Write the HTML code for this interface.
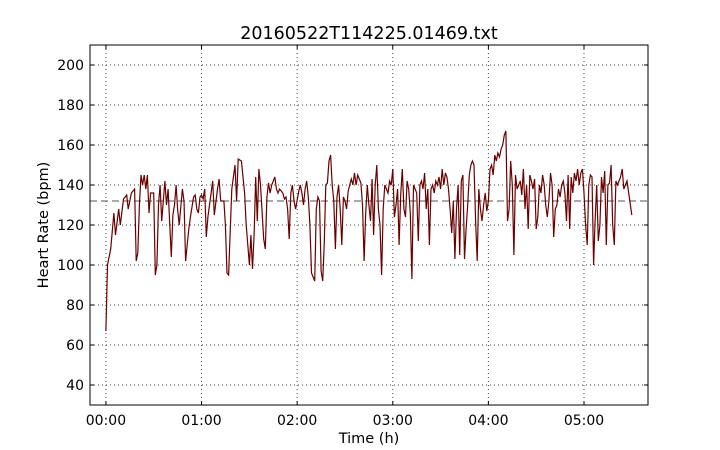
<!DOCTYPE html>
<html><head><meta charset="utf-8"><style>
html,body{margin:0;padding:0;background:#fff;width:720px;height:450px;overflow:hidden}
svg text{font-family:"DejaVu Sans","Liberation Sans",sans-serif;fill:#000}
</style></head><body>
<svg id="chart" width="720" height="450" xmlns="http://www.w3.org/2000/svg">
<rect width="720" height="450" fill="#fff"/>
<text x="369" y="39" font-size="17.5" text-anchor="middle">20160522T114225.01469.txt</text>
<g id="grid"></g>
<g id="ticks"></g>
<line id="mean" stroke="#555" stroke-width="1" stroke-dasharray="7,4"/>
<polyline id="series" fill="none" stroke="#6b0000" stroke-width="1.2"/>
<rect x="90" y="45" width="558" height="360" fill="none" stroke="#000" stroke-width="1"/>
<text x="369" y="443" font-size="14.5" text-anchor="middle">Time (h)</text>
<text transform="translate(48,225) rotate(-90)" font-size="14.5" text-anchor="middle">Heart Rate (bpm)</text>
</svg>
<script>
const yTicks=[40,60,80,100,120,140,160,180,200];
const xTicksMin=[0,60,120,180,240,300];
const xTickLabels=["00:00","01:00","02:00","03:00","04:00","05:00"];
const meanHR=132;
const timesMin=[0,1,3,5,6,8,9,11,13,14,16,18,19,20,21,22,23,24,25,26,27,28,30,31,32,33,34,35,37,38,39,41,42,43,44,45,46,48,49,50,51,52,53,55,56,57,58,59,60,
61,62,63,64,66,67,68,70,71,72,74,75,76,77,79,80,81,82,83,85,87,88,89,90,91,92,93,94,95,96,97,99,100,101,102,103,104,105,106,107,108,109,111,112,113,114,115,116,117,118,119,
121,122,123,124,125,126,127,128,129,130,131,132,133,134,135,136,137,138,139,140,141,142,143,144,145,146,147,148,149,150,151,152,153,154,155,156,157,158,159,160,161,162,163,164,165,166,167,168,169,170,171,172,173,174,175,176,177,178,179,180,
181,182,183,184,185,186,187,188,189,190,191,192,193,194,195,196,197,198,199,200,201,202,203,204,205,206,207,208,209,210,211,212,213,214,215,216,217,218,219,220,221,222,223,224,225,226,227,228,229,230,231,232,233,234,235,236,237,238,239,240,
241,242,243,244,245,246,247,248,249,250,251,252,253,254,255,256,257,258,259,260,261,262,263,264,265,266,267,268,269,270,271,272,273,274,275,276,277,278,279,280,281,282,283,284,285,286,287,288,289,290,291,292,293,294,295,296,297,298,299,
300,301,302,303,304,305,306,307,308,309,310,311,312,313,314,315,316,317,318,319,320,321,322,323,324,325,327,330];
const heartRate=[67,100,108,126,115,128,120,133,135,128,136,138,102,106,130,145,140,145,138,145,126,136,136,95,100,130,140,122,142,130,138,104,125,130,140,128,120,138,132,102,110,118,124,134,135,128,126,134,135,
133,138,114,124,136,142,125,138,143,132,132,120,96,95,138,144,150,132,153,152,136,120,110,100,115,98,115,144,122,148,140,113,108,134,141,136,140,142,144,138,136,138,136,133,134,128,113,136,140,132,128,
137,140,136,130,138,142,134,120,96,94,92,128,134,132,97,92,110,140,141,152,155,140,132,108,134,140,128,110,134,132,128,137,140,143,140,146,140,145,143,141,130,102,126,140,130,122,143,115,140,150,128,120,95,128,140,138,136,142,140,148,
124,130,138,110,135,148,128,124,142,138,126,93,140,138,136,112,140,142,138,146,128,138,110,138,140,136,142,140,144,138,148,140,146,144,138,128,116,132,103,128,140,105,142,145,103,118,130,145,150,152,150,122,102,138,128,122,130,136,127,132,
148,150,145,155,152,156,154,158,160,165,167,122,128,152,140,105,145,138,140,142,135,148,128,140,118,145,142,138,143,118,124,140,136,145,140,130,124,132,146,140,114,128,130,138,134,140,142,136,122,145,118,144,136,146,142,148,140,146,148,
136,120,110,140,145,144,100,122,140,112,120,144,136,147,110,140,141,150,120,110,142,140,142,144,148,138,142,125];
const X0=90,X1=648,Y0=405,Y1=45,XMIN=-10,XMAX=(648-106)/95.6*60,YMIN=30,YMAX=210;
const xs=m=>X0+(m-XMIN)/(XMAX-XMIN)*(X1-X0);
const ys=v=>Y0-(v-YMIN)/(YMAX-YMIN)*(Y0-Y1);
const NS="http://www.w3.org/2000/svg";
const grid=document.getElementById('grid'),ticks=document.getElementById('ticks');
function mk(tag,attrs,parent){const e=document.createElementNS(NS,tag);for(const k in attrs)e.setAttribute(k,attrs[k]);parent.appendChild(e);return e;}
yTicks.forEach(v=>{const y=ys(v);
const g=mk('line',{x1:X0,x2:X1,y1:y,y2:y,stroke:'#444','stroke-dasharray':'1,3','stroke-width':1},grid);


mk('line',{x1:X0,x2:X0+4,y1:y,y2:y,stroke:'#000'},ticks);
mk('line',{x1:X1-4,x2:X1,y1:y,y2:y,stroke:'#000'},ticks);
const t=mk('text',{x:X0-6,y:y+5,'font-size':14,'text-anchor':'end'},ticks);t.textContent=v;


});
xTicksMin.forEach((m,i)=>{const x=xs(m);
const g=mk('line',{x1:x,x2:x,y1:Y1,y2:Y0,stroke:'#444','stroke-dasharray':'1,3','stroke-width':1},grid);


mk('line',{x1:x,x2:x,y1:Y0-4,y2:Y0,stroke:'#000'},ticks);
mk('line',{x1:x,x2:x,y1:Y1,y2:Y1+4,stroke:'#000'},ticks);
const t=mk('text',{x:x,y:Y0+20,'font-size':14,'text-anchor':'middle'},ticks);t.textContent=xTickLabels[i];


});
const ml=document.getElementById('mean');
ml.setAttribute('x1',X0);ml.setAttribute('x2',X1);ml.setAttribute('y1',ys(meanHR));ml.setAttribute('y2',ys(meanHR));
document.getElementById('series').setAttribute('points',timesMin.map((m,i)=>xs(m).toFixed(1)+','+ys(heartRate[i]).toFixed(1)).join(' '));
</script>
</body></html>
